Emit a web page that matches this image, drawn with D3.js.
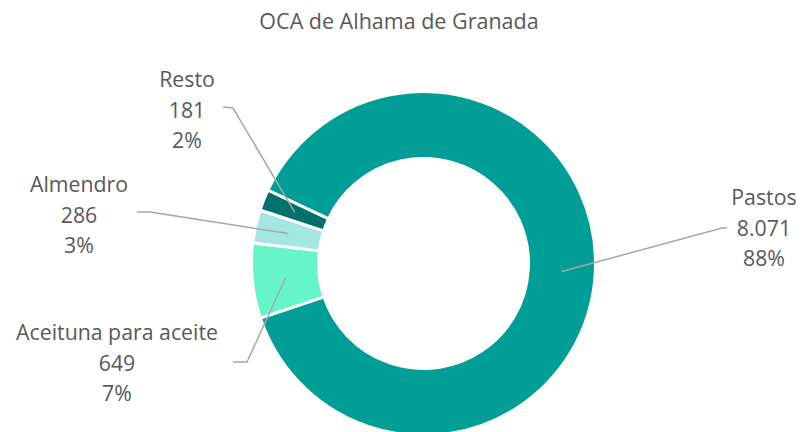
<!DOCTYPE html>
<html>
<head>
<meta charset="utf-8">
<script src="https://cdn.jsdelivr.net/npm/d3@7/dist/d3.min.js"></script>
<style>
html,body{margin:0;padding:0;background:#fff;}
svg{display:block;}
</style>
</head>
<body>
<svg id="chart" width="802" height="432"></svg>
<script>
const title = "OCA de Alhama de Granada";
const categories = ["Pastos", "Aceituna para aceite", "Almendro", "Resto"];
const values = [8071, 649, 286, 181];
const valueLabels = ["8.071", "649", "286", "181"];
const percentLabels = ["88%", "7%", "3%", "2%"];
const colors = ["#009E97", "#66F5C9", "#A3E6E2", "#00706C"];

// layout
const W = 802, H = 432;
const cx = 423.5, cy = 263.5, outerR = 172, innerR = 105;
const firstAngle = -64.8 * Math.PI / 180;
// label anchor (text block center x, first line baseline y), leader end points
const labelLayout = [
  {x: 764, y: 205, lineEnd: [[727, 228], [722, 228]]},
  {x: 117, y: 340, lineEnd: [[233, 362], [247, 362]]},
  {x: 79, y: 192, lineEnd: [[137, 212], [150, 212]]},
  {x: 187, y: 87, lineEnd: [[223, 107], [233, 108]]}
];

const svg = d3.select("#chart");
const font = "'Open Sans', 'Noto Sans', sans-serif";
const textColor = "#595959";

svg.append("text")
  .attr("x", 399).attr("y", 29)
  .attr("text-anchor", "middle")
  .attr("font-family", font).attr("font-size", 21.5)
  .attr("fill", textColor)
  .text(title);

const pie = d3.pie().sort(null).value(d => d)
  .startAngle(firstAngle).endAngle(firstAngle + 2 * Math.PI);
const arcs = pie(values);
const arc = d3.arc().innerRadius(innerR).outerRadius(outerR);

const g = svg.append("g").attr("transform", `translate(${cx},${cy})`);
g.selectAll("path.slice").data(arcs).enter().append("path")
  .attr("class", "slice")
  .attr("d", arc)
  .attr("fill", (d, i) => colors[i])
  .attr("stroke", "#fff")
  .attr("stroke-width", 3)
  .attr("stroke-linejoin", "round");

// leader lines
const line = d3.line();
arcs.forEach((d, i) => {
  const c = arc.centroid(d);
  const L = labelLayout[i];
  const pts = [
    [L.lineEnd[0][0], L.lineEnd[0][1]],
    [L.lineEnd[1][0], L.lineEnd[1][1]],
    [cx + c[0], cy + c[1]]
  ];
  svg.append("path")
    .attr("d", line(pts))
    .attr("fill", "none")
    .attr("stroke", "#A6A6A6")
    .attr("stroke-width", 1.5);
});

// labels
arcs.forEach((d, i) => {
  const L = labelLayout[i];
  const t = svg.append("text")
    .attr("text-anchor", "middle")
    .attr("font-family", font).attr("font-size", 21.3)
    .attr("fill", textColor);
  [categories[i], valueLabels[i], percentLabels[i]].forEach((s, k) => {
    t.append("tspan").attr("x", L.x).attr("y", L.y + k * 30.5).text(s);
  });
});
</script>
</body>
</html>
